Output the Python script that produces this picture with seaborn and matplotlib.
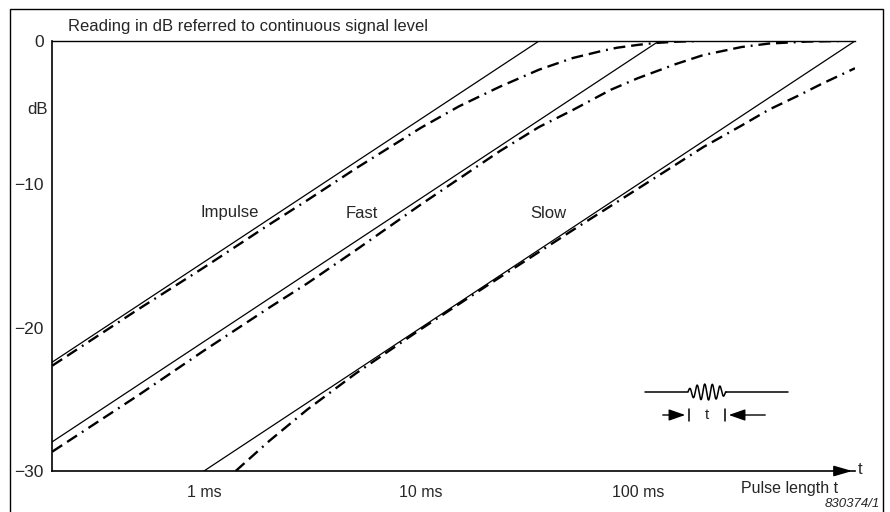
import numpy as np
import pandas as pd
import matplotlib
matplotlib.use("Agg")
import matplotlib.pyplot as plt
from matplotlib.patches import Rectangle
import seaborn as sns

# thin solid lines: ideal reading (end points, ms / dB)
imp_t = [0.2, 35]
imp_db = [-22.4, 0]
fast_t = [0.2, 125]
fast_db = [-27.96, 0]
slow_t = [1, 1000]
slow_db = [-30, 0]

# dash-dot curves: measured reading (ms / dB)
imp_dd_t = [0.2, 0.5, 1, 2, 3, 5, 10, 15, 23, 35, 50, 67, 80, 100, 120, 150, 190]
imp_dd_db = [-22.65, -18.7, -15.8, -12.8, -11.1, -8.9, -6.05, -4.55, -3.2, -2.0,
             -1.19, -0.72, -0.47, -0.27, -0.14, -0.05, 0]
fast_dd_t = [0.2, 0.5, 1, 2, 3, 5, 10, 23, 35, 50, 75, 100, 150, 200, 300, 400, 600, 850]
fast_dd_db = [-28.65, -24.7, -21.6, -18.6, -16.9, -14.6, -11.4, -7.7, -6.0, -4.82,
              -3.4, -2.59, -1.6, -0.98, -0.42, -0.18, -0.04, 0]
slow_dd_t = [1.4, 2, 3, 5, 10, 20, 50, 100, 200, 300, 400, 550, 700, 1000]
slow_dd_db = [-30.0, -27.9, -25.7, -23.2, -20.1, -17.1, -13.2, -10.3, -7.4,
              -5.9, -4.8, -3.8, -3.0, -1.9]

xticks = [1, 10, 100]
xticklabels = ["1 ms", "10 ms", "100 ms"]
yticks = [0, -10, -20, -30]
yticklabels = ["0", "\u221210", "\u221220", "\u221230"]

sns.set_style("white")
plt.rcParams['font.family'] = ['Liberation Sans', 'DejaVu Sans']

W, H = 890, 512
fig = plt.figure(figsize=(W / 100, H / 100), dpi=100)
ax = fig.add_axes([52.3 / W, 41 / H, (855 - 52.3) / W, 430 / H])

dd = (0, (5, 2.5, 5, 2.5, 0.8, 2.5))
for t, db in [(imp_t, imp_db), (fast_t, fast_db), (slow_t, slow_db)]:
    sns.lineplot(x=t, y=db, ax=ax, color="black", lw=0.9, estimator=None)
for t, db in [(imp_dd_t, imp_dd_db), (fast_dd_t, fast_dd_db), (slow_dd_t, slow_dd_db)]:
    sns.lineplot(x=t, y=db, ax=ax, color="black", lw=1.7, estimator=None,
                 linestyle=dd)

ax.set_xscale("log")
ax.set_xlim(0.2, 1000)
ax.set_ylim(-30, 0)
ax.minorticks_off()
ax.set_xticks(xticks)
ax.set_xticklabels(xticklabels, fontsize=11.5)
ax.set_yticks(yticks)
ax.set_yticklabels(yticklabels, fontsize=12.5)
ax.tick_params(axis="both", direction="out", length=5, width=1, color="black", pad=1)
ax.tick_params(axis="x", pad=5)
ax.set_xlabel("")
ax.set_ylabel("")
for s in ["left", "bottom", "top"]:
    ax.spines[s].set_color("black")
    ax.spines[s].set_linewidth(1.2)
ax.spines["right"].set_visible(False)
ax.spines["top"].set_linewidth(1.0)

# arrow head on the time axis
ax.annotate("", xy=(1.0, 0), xytext=(0.98, 0), xycoords="axes fraction",
            arrowprops=dict(arrowstyle="-|>,head_length=1.1,head_width=0.32",
                            color="black", lw=1.2, mutation_scale=10))

def ftext(x, y, s, **kw):
    fig.text(x / W, 1 - y / H, s, **kw)

ftext(68, 27, "Reading in dB referred to continuous signal level", fontsize=12, va="center")
ftext(48, 110, "dB", fontsize=12, ha="right", va="center")
ftext(200, 213, "Impulse", fontsize=12, va="center")
ftext(346, 213, "Fast", fontsize=12, va="center")
ftext(530, 213, "Slow", fontsize=12, va="center")
ftext(858, 470, "t", fontsize=12, va="center")
ftext(838, 489, "Pulse length t", fontsize=11.5, ha="right", va="center")
ftext(880, 504, "830374/1", fontsize=9.5, ha="right", va="center", style="italic")

# pulse sketch
ins = fig.add_axes([640 / W, 1 - 425 / H, 155 / W, 45 / H])
ins.set_xlim(0, 155)
ins.set_ylim(45, 0)
ins.axis("off")
u = np.linspace(48, 86, 400)
env = np.sin(np.pi * (u - 48) / 38) ** 0.4
wig = 12 - 8 * env * np.sin((u - 48) / 38 * 5 * 2 * np.pi + 0.3)
ins.plot(np.r_[5, u, 148], np.r_[12, wig, 12], color="black", lw=1.1)
ins.annotate("", xy=(48, 35), xytext=(20, 35),
             arrowprops=dict(arrowstyle="-|>,head_length=1.0,head_width=0.35",
                             color="black", lw=1, mutation_scale=10))
ins.annotate("", xy=(86, 35), xytext=(128, 35),
             arrowprops=dict(arrowstyle="-|>,head_length=1.0,head_width=0.35",
                             color="black", lw=1, mutation_scale=10))
ins.plot([49, 49], [29, 41], color="black", lw=1.1)
ins.plot([85, 85], [29, 41], color="black", lw=1.1)
ins.text(67, 35, "t", fontsize=11, ha="center", va="center")

fig.add_artist(Rectangle((10 / W, -0.02), (883 - 10) / W, 1 - 9 / H + 0.02,
                         transform=fig.transFigure, fill=False, lw=1, color="black"))

fig.savefig("out.png", dpi=100)
